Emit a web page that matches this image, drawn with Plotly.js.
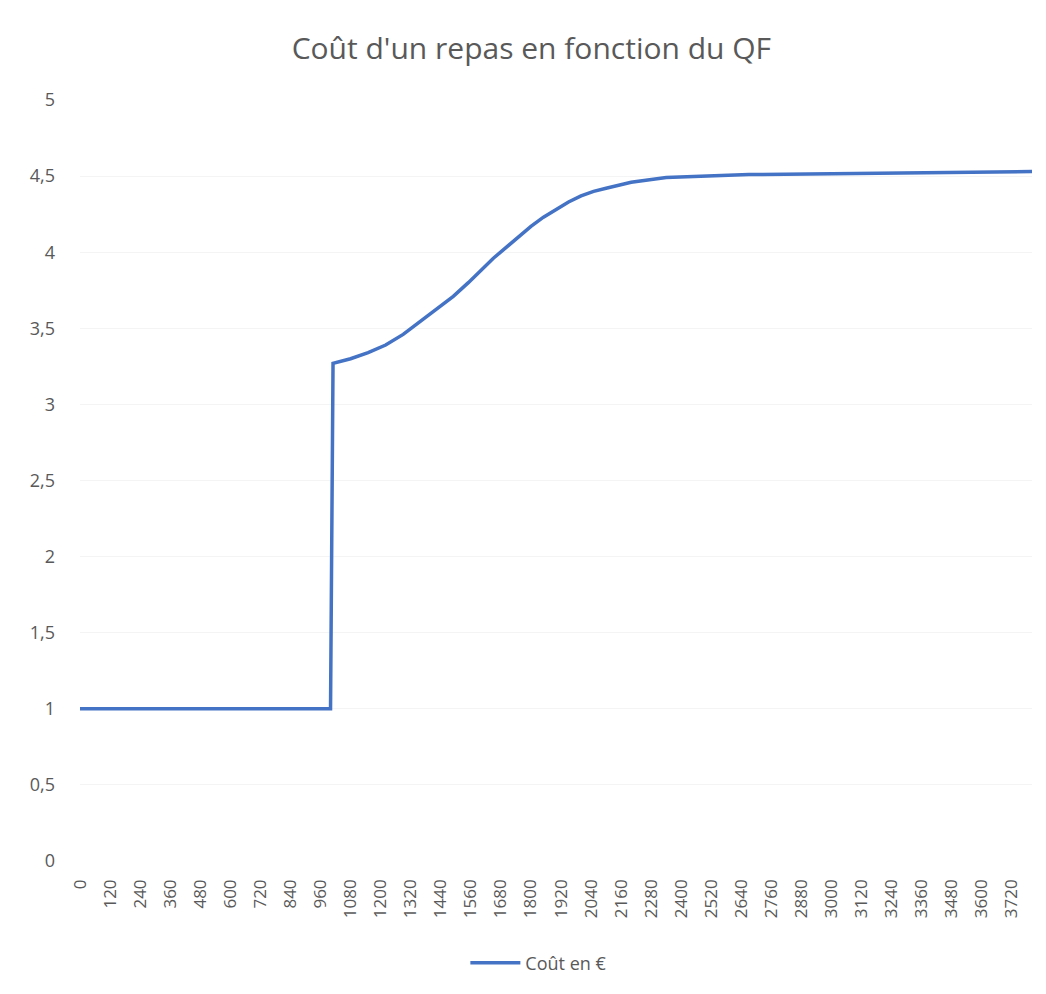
<!DOCTYPE html>
<html>
<head>
<meta charset="utf-8">
<script src="https://cdn.plot.ly/plotly-3.0.1.min.js"></script>
<style>
  html, body { margin: 0; padding: 0; background: #ffffff; }
  #chart { width: 1046px; height: 994px; }
</style>
</head>
<body>
<div id="chart"></div>
<script>
// QF values (x) and cost of a meal in euros (y)
var qf   = [0, 1000, 1010, 1080, 1150, 1220, 1290, 1355, 1420, 1490, 1550, 1600, 1650, 1700, 1750, 1800, 1850, 1900, 1950, 2000, 2050, 2100, 2200, 2340, 2470, 2670, 3800];
var cout = [1, 1,    3.27, 3.30, 3.34, 3.39, 3.46, 3.54, 3.62, 3.71, 3.80, 3.88, 3.96, 4.03, 4.10, 4.17, 4.23, 4.28, 4.33, 4.37, 4.40, 4.42, 4.46, 4.49, 4.50, 4.51, 4.53];

// category tick labels on the x axis
var xTicks = [0, 120, 240, 360, 480, 600, 720, 840, 960, 1080, 1200, 1320, 1440, 1560, 1680, 1800,
              1920, 2040, 2160, 2280, 2400, 2520, 2640, 2760, 2880, 3000, 3120, 3240, 3360, 3480, 3600, 3720];
var yTicks = [0, 0.5, 1, 1.5, 2, 2.5, 3, 3.5, 4, 4.5, 5];

var seriesName = 'Coût en €';
var chartTitle = "Coût d'un repas en fonction du QF";

var trace = {
  x: qf,
  y: cout,
  type: 'scatter',
  mode: 'lines',
  name: seriesName,
  line: { color: '#4472C4', width: 3.5, shape: 'linear' },
  hoverinfo: 'x+y'
};

var layout = {
  width: 1046,
  height: 994,
  paper_bgcolor: '#ffffff',
  plot_bgcolor: '#ffffff',
  separators: ', ',
  font: { family: '"Open Sans", "Liberation Sans", sans-serif', color: '#595959' },
  margin: { l: 80, r: 14, t: 100, b: 131 },
  title: {
    text: chartTitle,
    font: { size: 30, color: '#595959', family: '"Open Sans", sans-serif' },
    x: 0.508, xanchor: 'center',
    y: 0.951, yanchor: 'middle'
  },
  xaxis: {
    type: 'linear',
    range: [0, 3800],
    tickmode: 'array',
    tickvals: xTicks,
    ticktext: xTicks.map(String),
    tickangle: -90,
    tickfont: { size: 17, color: '#595959' },
    ticks: '',
    ticklabelstandoff: 14,
    showgrid: false,
    zeroline: false,
    showline: false,
    fixedrange: true
  },
  yaxis: {
    range: [0, 5],
    tickmode: 'array',
    tickvals: yTicks,
    ticktext: yTicks.map(function (v) { return String(v).replace('.', ','); }),
    tickfont: { size: 18, color: '#595959' },
    ticks: '',
    ticklabelstandoff: 24,
    showgrid: true,
    gridcolor: '#f4f4f4',
    gridwidth: 1,
    zeroline: false,
    showline: false,
    fixedrange: true
  },
  showlegend: true,
  legend: {
    orientation: 'h',
    x: 0.482, xanchor: 'center',
    y: -0.134, yanchor: 'middle',
    font: { size: 18, color: '#595959' },
    itemwidth: 50
  }
};

Plotly.newPlot('chart', [trace], layout, { displayModeBar: false, staticPlot: true });
</script>
</body>
</html>
